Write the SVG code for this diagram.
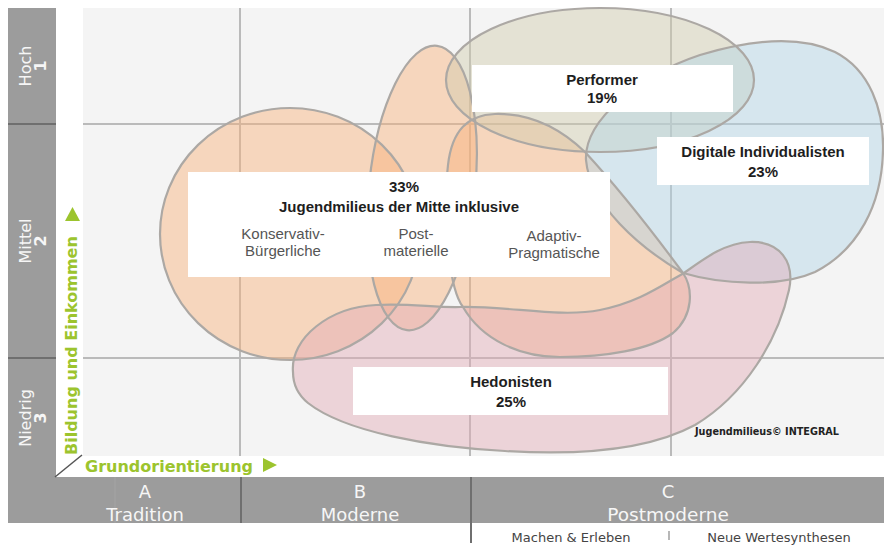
<svg xmlns="http://www.w3.org/2000/svg" xmlns:xlink="http://www.w3.org/1999/xlink" width="884" height="546" viewBox="0 0 884 546">
  <style>
    .strip{fill:#9c9c9c}
    .strip-div{stroke:#6f6f6f;stroke-width:2}
    .axis-txt{font-family:"DejaVu Sans","Liberation Sans",sans-serif;fill:#f6f6f6;text-anchor:middle}
    .grid{stroke:#bababa;stroke-width:2}
    .outline{fill:none;stroke:#aca8a4;stroke-width:2.2}
    .peach{fill:#f9b27a;fill-opacity:.45}
    .sand{fill:#d0ccad;fill-opacity:.45}
    .sky{fill:#b1d5e7;fill-opacity:.45}
    .rose{fill:#e2abb6;fill-opacity:.45}
    .box{fill:#ffffff}
    .title{font-family:"Liberation Sans",Arial,sans-serif;font-weight:bold;font-size:15px;fill:#1e1e1e;text-anchor:middle}
    .sub{font-family:"Liberation Sans",Arial,sans-serif;font-size:15px;fill:#555555;text-anchor:middle}
    .green{fill:#9cc42e}
    .green-txt{font-family:"DejaVu Sans","Liberation Sans",sans-serif;font-weight:bold;font-size:16px;fill:#9cc42e}
    .foot{font-family:"DejaVu Sans","Liberation Sans",sans-serif;font-size:13px;fill:#444444;text-anchor:middle}
  </style>
  <defs>
    <ellipse id="shape-kb" cx="290" cy="234" rx="130" ry="126"/>
    <ellipse id="shape-pm" cx="422" cy="188" rx="53" ry="143" transform="rotate(6 422 188)"/>
    <path id="shape-ap" d="M463,307 C446,285 444,200 448,165 C452,130 468,115 495,114 C530,113 560,128 585,152 C620,190 655,235 683,273 C693,288 694,315 673,333 C650,350 605,357 560,357 C520,357 482,340 463,307 Z"/>
    <ellipse id="shape-pf" cx="600" cy="80" rx="154" ry="72"/>
    <path id="shape-di" d="M683,273 C640,248 590,205 586,160 C584,120 640,75 700,55 C750,40 800,35 835,52 C870,70 884,110 883,150 C882,205 858,250 815,272 C780,288 720,284 683,273 Z"/>
    <path id="shape-he" d="M293,372 C290,338 330,307 376,305 C410,303 435,308 461,307 C510,306 560,318 600,310 C640,302 662,285 684,273 C705,258 725,243 750,242 C780,241 795,262 789,290 C778,340 745,395 695,425 C645,452 570,455 505,451 C430,447 345,432 308,403 C297,394 293,383 293,372 Z"/>
  </defs>

  <!-- page -->
  <rect x="0" y="0" width="884" height="546" fill="#ffffff"/>

  <!-- plot field with grid -->
  <g id="plot">
    <rect x="83" y="8" width="801" height="448" fill="#f4f4f4"/>
    <line class="grid" x1="240" y1="8" x2="240" y2="456"/>
    <line class="grid" x1="470" y1="8" x2="470" y2="456"/>
    <line class="grid" x1="671" y1="8" x2="671" y2="456"/>
    <line class="grid" x1="83" y1="124" x2="884" y2="124"/>
    <line class="grid" x1="83" y1="358" x2="884" y2="358"/>
  </g>

  <!-- vertical axis: Bildung und Einkommen -->
  <g id="axis-y">
    <rect class="strip" x="8" y="8" width="48" height="470"/>
    <line class="strip-div" x1="8" y1="124" x2="56" y2="124"/>
    <line class="strip-div" x1="8" y1="358" x2="56" y2="358"/>
    <text class="axis-txt" font-size="16" transform="translate(31,66) rotate(-90)">Hoch</text>
    <text class="axis-txt" font-size="16" font-weight="bold" transform="translate(46,66) rotate(-90)">1</text>
    <text class="axis-txt" font-size="16" transform="translate(31,241) rotate(-90)">Mittel</text>
    <text class="axis-txt" font-size="16" font-weight="bold" transform="translate(46,241) rotate(-90)">2</text>
    <text class="axis-txt" font-size="16" transform="translate(31,418) rotate(-90)">Niedrig</text>
    <text class="axis-txt" font-size="16" font-weight="bold" transform="translate(46,418) rotate(-90)">3</text>
    <text class="green-txt" transform="translate(77,455) rotate(-90)">Bildung und Einkommen</text>
    <polygon class="green" points="72.5,207 65,221 80,221"/>
  </g>

  <!-- horizontal axis: Grundorientierung -->
  <g id="axis-x">
    <rect class="strip" x="8" y="477" width="876" height="46"/>
    <line x1="115" y1="477" x2="115" y2="523" stroke="#a4a4a4" stroke-width="1"/>
    <line class="strip-div" x1="241" y1="477" x2="241" y2="523"/>
    <line class="strip-div" x1="471" y1="477" x2="471" y2="543"/>
    <line x1="55" y1="477" x2="82" y2="455" stroke="#555555" stroke-width="1.5"/>
    <text class="green-txt" x="85" y="472">Grundorientierung</text>
    <polygon class="green" points="263,458 263,472 277,465"/>
    <text class="axis-txt" font-size="18" x="145" y="498">A</text>
    <text class="axis-txt" font-size="18" x="145" y="521">Tradition</text>
    <text class="axis-txt" font-size="18" x="360" y="498">B</text>
    <text class="axis-txt" font-size="18" x="360" y="521">Moderne</text>
    <text class="axis-txt" font-size="18" x="668" y="498">C</text>
    <text class="axis-txt" font-size="18.5" x="668" y="521">Postmoderne</text>
    <text class="foot" x="571" y="542">Machen &amp; Erleben</text>
    <line x1="669" y1="531" x2="669" y2="540" stroke="#888888" stroke-width="1.2"/>
    <text class="foot" x="779" y="542">Neue Wertesynthesen</text>
  </g>

  <!-- milieu areas -->
  <g id="milieu-konservativ-buergerliche"><use xlink:href="#shape-kb" class="peach"/></g>
  <g id="milieu-postmaterielle"><use xlink:href="#shape-pm" class="peach"/></g>
  <g id="milieu-adaptiv-pragmatische"><use xlink:href="#shape-ap" class="peach"/></g>
  <g id="milieu-performer"><use xlink:href="#shape-pf" class="sand"/></g>
  <g id="milieu-digitale-individualisten"><use xlink:href="#shape-di" class="sky"/></g>
  <g id="milieu-hedonisten"><use xlink:href="#shape-he" class="rose"/></g>

  <!-- outlines of all milieu areas, drawn over the fills -->
  <g id="outlines">
    <use xlink:href="#shape-kb" class="outline"/>
    <use xlink:href="#shape-pm" class="outline"/>
    <use xlink:href="#shape-ap" class="outline"/>
    <use xlink:href="#shape-pf" class="outline"/>
    <use xlink:href="#shape-di" class="outline"/>
    <use xlink:href="#shape-he" class="outline"/>
  </g>

  <!-- labels -->
  <g id="label-performer">
    <rect class="box" x="472" y="65" width="261" height="47"/>
    <text class="title" x="602" y="85">Performer</text>
    <text class="title" x="602" y="103">19%</text>
  </g>
  <g id="label-digitale-individualisten">
    <rect class="box" x="657" y="137" width="212" height="48"/>
    <text class="title" x="763" y="157">Digitale Individualisten</text>
    <text class="title" x="763" y="177">23%</text>
  </g>
  <g id="label-mitte">
    <rect class="box" x="188" y="172" width="422" height="105"/>
    <text class="title" x="404" y="192">33%</text>
    <text class="title" x="399" y="212" font-size="15.5">Jugendmilieus der Mitte inklusive</text>
    <text class="sub" x="283" y="239">Konservativ-</text>
    <text class="sub" x="283" y="256">Bürgerliche</text>
    <text class="sub" x="416" y="239">Post-</text>
    <text class="sub" x="416" y="256">materielle</text>
    <text class="sub" x="554" y="241">Adaptiv-</text>
    <text class="sub" x="554" y="258">Pragmatische</text>
  </g>
  <g id="label-hedonisten">
    <rect class="box" x="353" y="367" width="315" height="48"/>
    <text class="title" x="511" y="387">Hedonisten</text>
    <text class="title" x="511" y="407">25%</text>
  </g>

  <text x="695" y="435" font-family="'DejaVu Sans','Liberation Sans',sans-serif" font-size="10" font-weight="bold" fill="#222222" textLength="144" lengthAdjust="spacingAndGlyphs">Jugendmilieus© INTEGRAL</text>
</svg>
